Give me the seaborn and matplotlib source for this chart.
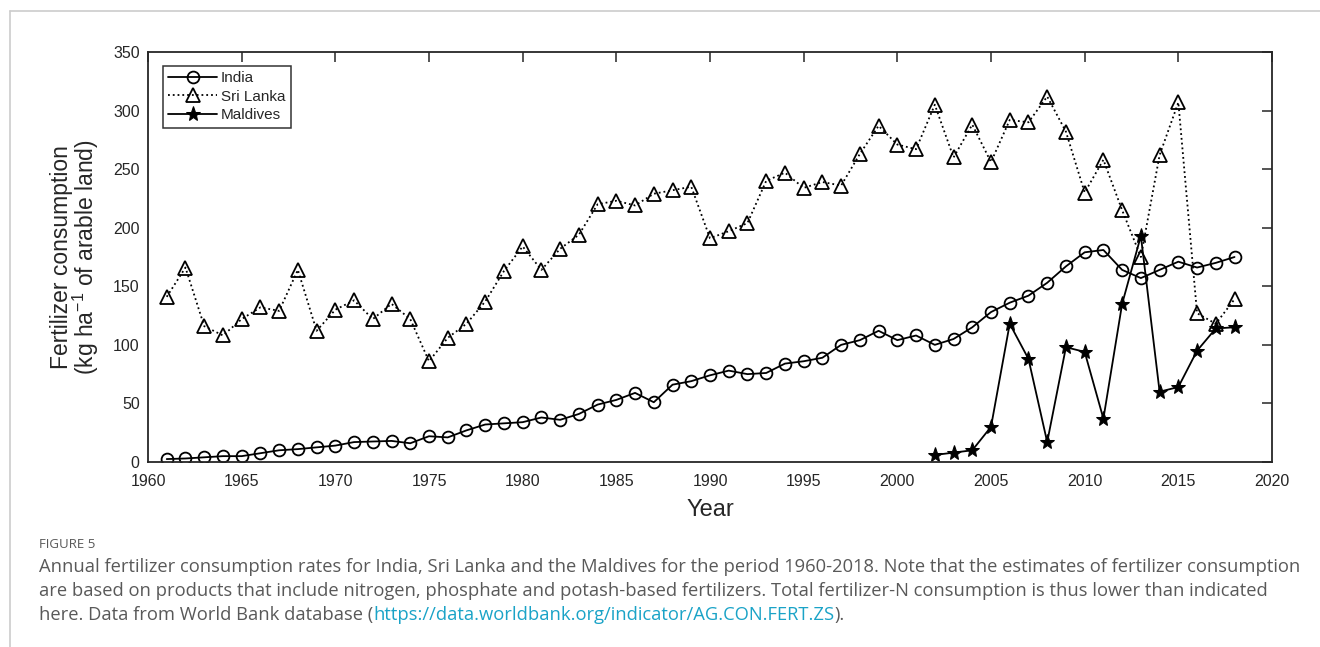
import numpy as np
import pandas as pd
import seaborn as sns
import matplotlib.pyplot as plt
from matplotlib.lines import Line2D

# Data (kg per ha of arable land)
years = list(range(1961, 2019))
india = [2.5, 3, 4, 5, 5, 7.5, 10, 11, 12.5, 14,
         17, 17.5, 18, 16, 22, 21, 27, 32, 33, 34,
         38, 36, 41, 49, 53, 59, 51, 66, 69, 74,
         78, 75, 76, 84, 86, 89, 100, 104, 112, 104,
         108, 100, 105, 115, 128, 136, 142, 153, 167, 179,
         181, 164, 157, 164, 171, 166, 170, 175]
sri_lanka = [141, 166, 116, 108, 122, 132, 129, 164, 112, 130,
             138, 122, 135, 122, 86, 106, 118, 137, 163, 184,
             164, 182, 194, 220, 223, 219, 229, 232, 235, 191,
             197, 204, 240, 247, 234, 239, 236, 263, 287, 271,
             267, 305, 260, 288, 256, 292, 290, 312, 282, 230,
             258, 215, 175, 262, 307, 127, 118, 139]
maldives_years = list(range(2002, 2019))
maldives = [6, 8, 10, 30, 118, 88, 17, 98, 94, 37,
            135, 193, 60, 64, 95, 114, 115]

x_ticks = list(range(1960, 2021, 5))
y_ticks = list(range(0, 351, 50))

df_in = pd.DataFrame({"Year": years, "value": india})
df_sl = pd.DataFrame({"Year": years, "value": sri_lanka})
df_md = pd.DataFrame({"Year": maldives_years, "value": maldives})

sns.set_style("white")
plt.rcParams['font.family'] = ['Liberation Sans', 'DejaVu Sans']
plt.rcParams['mathtext.default'] = 'regular'

fig = plt.figure(figsize=(13.2, 6.47), dpi=100)
ax = fig.add_axes([148/1320, 1 - 462/647, (1272-148)/1320, (462-52)/647])

common = dict(color="black", linewidth=1.3, markerfacecolor="none",
              markeredgecolor="black", markeredgewidth=1.3, ax=ax)
sns.lineplot(data=df_in, x="Year", y="value", marker="o", markersize=8.5,
             linestyle="-", label="India", **common)
sns.lineplot(data=df_sl, x="Year", y="value", marker="^", markersize=9.5,
             linestyle=":", label="Sri Lanka", **common)
sns.lineplot(data=df_md, x="Year", y="value", marker="*", markersize=11,
             linestyle="-", label="Maldives", color="black", linewidth=1.3,
             markerfacecolor="black", markeredgecolor="black", ax=ax)

ax.set_xlim(1960, 2020)
ax.set_ylim(0, 350)
ax.set_xticks(x_ticks)
ax.set_yticks(y_ticks)
ax.tick_params(direction="in", length=7, width=1.1, top=True, right=True,
               labelsize=11.5, colors="#262626")
ax.tick_params(axis="x", pad=9)
ax.tick_params(axis="y", pad=6)
for s in ax.spines.values():
    s.set_linewidth(1.3)
    s.set_color("#262626")
    s.set_visible(True)

ax.set_xlabel("Year", fontsize=17, labelpad=7)
ax.set_ylabel("Fertilizer consumption\n(kg ha$^{-1}$ of arable land)",
              fontsize=16.5, labelpad=9, linespacing=0.9)

leg = ax.legend(loc="upper left", bbox_to_anchor=(0.0065, 0.985), fontsize=11,
                frameon=True, fancybox=False, edgecolor="black",
                handlelength=3.2, handletextpad=0.25, borderpad=0.35,
                labelspacing=0.3, borderaxespad=0.5)
leg.get_frame().set_linewidth(1.1)

# page border lines
fig.add_artist(Line2D([10/1320, 1], [1 - 11/647, 1 - 11/647], color="#cccccc", lw=1.2))
fig.add_artist(Line2D([10/1320, 10/1320], [0, 1 - 11/647], color="#cccccc", lw=1.2))

# caption
cap_font = ['Open Sans', 'DejaVu Sans']
grey = "#595959"
fs = 13.2
fig.text(39/1320, 1 - 545/647, "FIGURE 5", fontsize=9.5, color=grey,
         family=cap_font, va="center")
line1 = ("Annual fertilizer consumption rates for India, Sri Lanka and the Maldives for the period "
         "1960-2018. Note that the estimates of fertilizer consumption")
line2 = ("are based on products that include nitrogen, phosphate and potash-based fertilizers. "
         "Total fertilizer-N consumption is thus lower than indicated")
fig.text(39/1320, 1 - 567/647, line1, fontsize=fs, color=grey, family=cap_font, va="center")
fig.text(39/1320, 1 - 591/647, line2, fontsize=fs, color=grey, family=cap_font, va="center")

renderer = fig.canvas.get_renderer()
x_pos = 39/1320
parts = [("here. Data from World Bank database (", grey),
         ("https://data.worldbank.org/indicator/AG.CON.FERT.ZS", "#1aa3c7"),
         (").", grey)]
for txt, col in parts:
    t = fig.text(x_pos, 1 - 615/647, txt, fontsize=fs, color=col,
                 family=cap_font, va="center")
    bb = t.get_window_extent(renderer=renderer)
    x_pos += bb.width / fig.bbox.width

fig.savefig("out.png", dpi=100)
